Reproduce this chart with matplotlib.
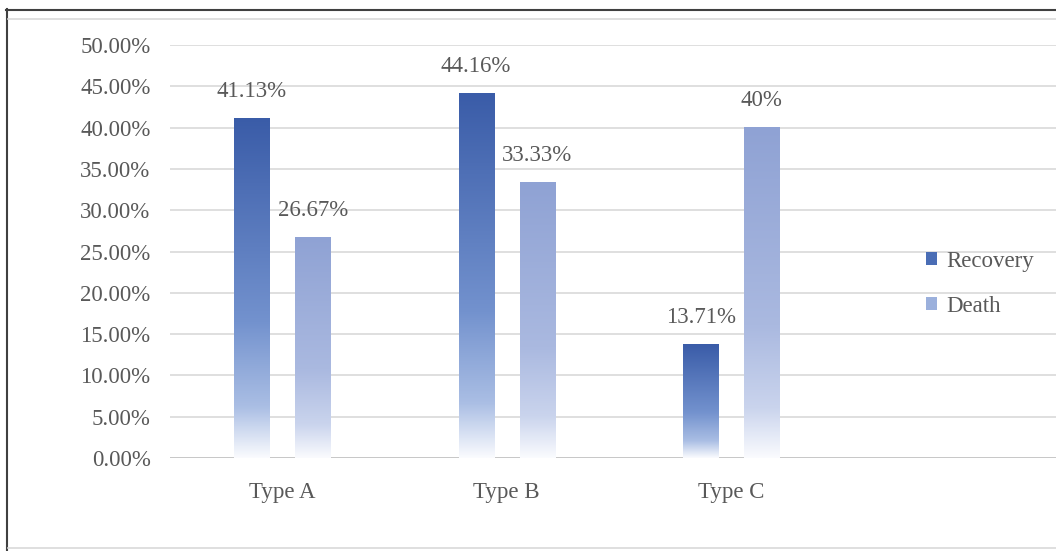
import numpy as np
import matplotlib
matplotlib.use('Agg')
import matplotlib.pyplot as plt
from matplotlib.lines import Line2D
from matplotlib.patches import Patch
from matplotlib.colors import LinearSegmentedColormap

categories = ['Type A', 'Type B', 'Type C']
recovery = [41.13, 44.16, 13.71]
death = [26.67, 33.33, 40]
recovery_labels = ['41.13%', '44.16%', '13.71%']
death_labels = ['26.67%', '33.33%', '40%']
yticks = [0, 5, 10, 15, 20, 25, 30, 35, 40, 45, 50]

plt.rcParams['font.family'] = ['Liberation Serif', 'DejaVu Serif']
txt_color = '#595959'
fs = 16.5

# gradient stops: bottom (0) -> top (1)
rec_cmap = LinearSegmentedColormap.from_list('rec', [
    (0.0, (250/255, 251/255, 254/255)),
    (0.15, (170/255, 190/255, 228/255)),
    (0.4, (115/255, 146/255, 206/255)),
    (1.0, (58/255, 92/255, 168/255))])
dea_cmap = LinearSegmentedColormap.from_list('dea', [
    (0.0, (250/255, 251/255, 254/255)),
    (0.15, (202/255, 212/255, 237/255)),
    (0.4, (170/255, 185/255, 224/255)),
    (1.0, (143/255, 162/255, 212/255))])

fig = plt.figure(figsize=(10.56, 5.51), dpi=100)
ax = fig.add_axes([170/1056, 93/551, 886/1056, 413/551])

x = np.arange(len(categories))
w = 0.156
off = 0.136
grad = np.linspace(0, 1, 256).reshape(-1, 1)

bars_r = ax.bar(x - off, recovery, w, color='none', zorder=3)
bars_d = ax.bar(x + off, death, w, color='none', zorder=3)
for bars, cmap in [(bars_r, rec_cmap), (bars_d, dea_cmap)]:
    for b in bars:
        bx, by = b.get_x(), b.get_y()
        ax.imshow(grad, cmap=cmap, origin='lower', aspect='auto',
                  extent=[bx, bx + b.get_width(), by, by + b.get_height()],
                  zorder=3)

for bars, labs in [(bars_r, recovery_labels), (bars_d, death_labels)]:
    for b, lab in zip(bars, labs):
        ax.annotate(lab, (b.get_x() + b.get_width()/2, b.get_height()),
                    xytext=(0, 19.5), textcoords='offset points',
                    ha='center', va='center', fontsize=fs, color=txt_color)

ax.set_xlim(-0.5, 3.447)
ax.set_ylim(0, 50)
ax.set_yticks(yticks)
ax.set_yticklabels(['{:.2f}%'.format(v) for v in yticks])
ax.set_xticks(x)
ax.set_xticklabels(categories)
ax.tick_params(axis='both', length=0, labelsize=fs, colors=txt_color)
ax.tick_params(axis='y', pad=14)
ax.tick_params(axis='x', pad=17)
for s in ax.spines.values():
    s.set_visible(False)
ax.grid(axis='y', color='#D9D9D9', linewidth=1.2, zorder=0)
ax.set_axisbelow(True)
ax.axhline(0, color='#C8C8C8', linewidth=1.4, zorder=2)

handles = [Patch(facecolor='#4A6DB5', label='Recovery'),
           Patch(facecolor='#9BB0DC', label='Death')]
leg = ax.legend(handles=handles, loc='center left', bbox_to_anchor=(0.83, 0.422),
                frameon=False, fontsize=fs, handlelength=0.5, handleheight=0.5,
                handletextpad=0.4, labelspacing=1.05)
for t in leg.get_texts():
    t.set_color(txt_color)

# frame around the chart
fig.add_artist(Line2D([6/1056, 1], [1 - 9.5/551] * 2, color='#404040', linewidth=1.5))
fig.add_artist(Line2D([6.5/1056] * 2, [0, 1 - 9/551], color='#404040', linewidth=1.5))
fig.add_artist(Line2D([8/1056, 1], [1 - 19/551] * 2, color='#D9D9D9', linewidth=1.2))
fig.add_artist(Line2D([8/1056, 1], [3/551] * 2, color='#D9D9D9', linewidth=1.2))

fig.savefig('out.png', dpi=100)
